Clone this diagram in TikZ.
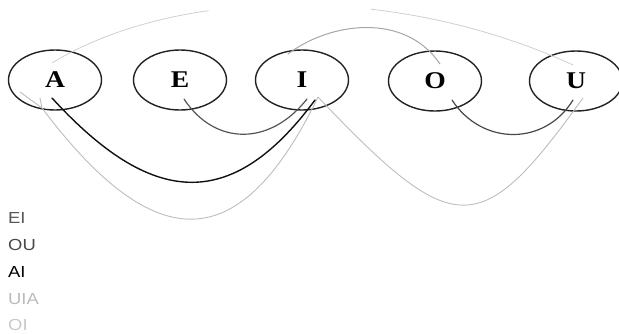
\documentclass[tikz,border=0pt]{standalone}
\usepackage{fontspec}
\usetikzlibrary{calc,shapes.geometric}
\newfontfamily\vowelfont[FakeStretch=1.15]{Liberation Serif}
\newfontfamily\wordfont[FakeStretch=1.15]{Liberation Sans}
\definecolor{ringcol}{HTML}{222222}
\definecolor{eicol}{HTML}{555555}
\definecolor{oucol}{HTML}{484848}
\definecolor{aicol}{HTML}{111111}
\definecolor{uiacol}{HTML}{BDBDBD}
\definecolor{oicol}{HTML}{A6A6A6}
\definecolor{topcol}{HTML}{CFCFCF}
\definecolor{uialabel}{HTML}{BBBBBB}
\definecolor{oilabel}{HTML}{C8C8C8}
\tikzset{
  vowel/.style={ellipse, draw=ringcol, line width=1.4pt, minimum width=93pt,
    minimum height=60pt, inner sep=0pt,
    font=\vowelfont\bfseries\fontsize{24}{24}\selectfont},
  word/.style={anchor=base west, inner sep=0pt,
    font=\wordfont\fontsize{16}{16}\selectfont},
  route/.style={line width=#1, line cap=round, line join=round},
}
\begin{document}
\begin{tikzpicture}[x=1pt, y=-1pt]
\useasboundingbox (0,0) rectangle (619,333);

% the five vowels
\node[vowel] (A) at (55,80) {A};
\node[vowel] (E) at (180,80) {E};
\node[vowel] (I) at (302,80) {I};
\node[vowel] (O) at (435,81) {O};
\node[vowel] (U) at (576,81) {U};

% faint arc from A over the top to U
\draw[route=0.8pt, topcol, dash pattern=on 166pt off 163pt on 260pt]
  ($(A)+(-3,-17)$) .. controls +(128,-78) and +(-173,-80) .. ($(U)+(-3,-16)$);

% OI
\draw[route=1pt, oicol]
  ($(O)+(5,-17)$) .. controls +(-35,-52) and +(42,-32) .. ($(I)+(-14,-26)$);

% UIA, ending with the barb at A
\coordinate (uiatip) at ($(A)+(-13,28)$);
\draw[route=0.9pt, uiacol]
  ($(U)+(7,17)$) .. controls +(-103,143) and +(137,144) .. ($(I)+(16,17)$)
  .. controls +(-78,161) and +(113,150) .. (uiatip)
  -- ($(A)+(-35,12)$);
\draw[route=0.9pt, uiacol] ($(A)+(-15,18)$) -- (uiatip);

% EI
\draw[route=1.2pt, eicol]
  ($(E)+(4,19)$) .. controls +(31,47) and +(-37,47) .. ($(I)+(5,19)$);

% OU
\draw[route=1.2pt, oucol]
  ($(O)+(17,19)$) .. controls +(30,46) and +(-28,46) .. ($(U)+(-3,19)$);

% AI
\draw[route=1.4pt, aicol]
  ($(A)+(-3,18)$) .. controls +(98,107) and +(-85,115) .. ($(I)+(13,20)$);

% legend of words
\node[word, text=eicol] (wEI) at (8,223) {EI};
\node[word, text=oucol] (wOU) at (8,250) {OU};
\node[word, text=black] (wAI) at (8,277) {AI};
\node[word, text=uialabel] (wUIA) at (8,304) {UIA};
\node[word, text=oilabel] (wOI) at (8,330.5) {OI};
\end{tikzpicture}
\end{document}
